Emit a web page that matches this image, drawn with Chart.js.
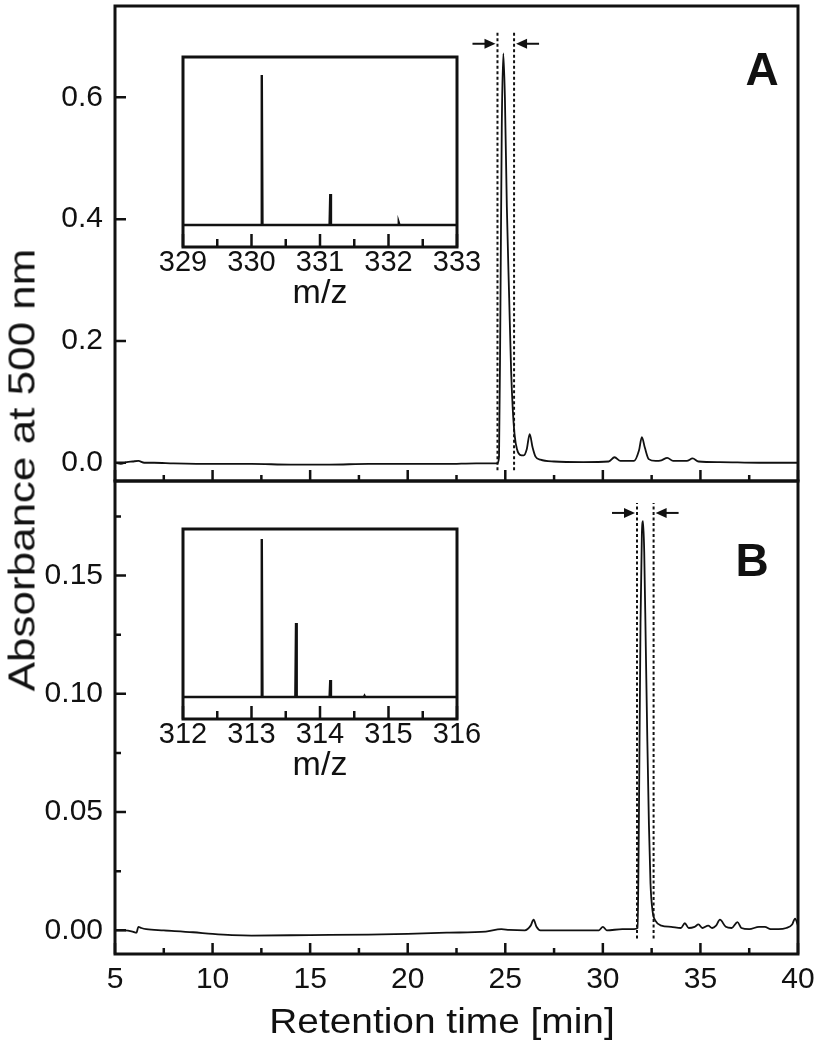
<!DOCTYPE html>
<html><head><meta charset="utf-8">
<script src="https://cdn.jsdelivr.net/npm/chart.js@4.4.0/dist/chart.umd.min.js"></script>
<style>
html,body{margin:0;padding:0;background:#fff}
body{width:819px;height:1050px;overflow:hidden;position:relative;font-family:"Liberation Sans",Arial,sans-serif;color:#111}
canvas{position:absolute}
.t{position:absolute;white-space:nowrap;line-height:1;color:#111}
</style></head><body>
<canvas id="cA" width="819" height="500" style="left:0;top:0"></canvas>
<canvas id="cB" width="819" height="580" style="left:0;top:470px"></canvas>
<canvas id="iA" width="360" height="240" style="left:140px;top:40px"></canvas>
<canvas id="iB" width="360" height="240" style="left:140px;top:512px"></canvas>
<div class="t" style="left:22px;top:470px;font-size:44px;transform:translate(-50%,-50%) rotate(-90deg) scaleY(0.82)">Absorbance at 500 nm</div>
<div class="t" style="left:442px;top:1020px;font-size:35px;transform:translate(-50%,-50%) scaleX(1.11)">Retention time [min]</div>
<div class="t" style="left:320px;top:291px;font-size:34px;transform:translate(-50%,-50%)">m/z</div>
<div class="t" style="left:320px;top:763px;font-size:34px;transform:translate(-50%,-50%)">m/z</div>
<div class="t" style="left:762px;top:69px;font-size:46px;font-weight:bold;transform:translate(-50%,-50%)">A</div>
<div class="t" style="left:752px;top:560px;font-size:46px;font-weight:bold;transform:translate(-50%,-50%)">B</div>
<script>
// ---------- data ----------
const timeA = [5.0,5.3,5.6,5.9,6.2,6.5,7.0,8.0,10.0,12.0,14.0,16.0,18.0,20.0,22.0,23.5,24.6,24.68,24.75,24.82,24.9,24.98,25.08,25.2,25.3,25.38,25.48,25.6,25.75,25.95,26.1,26.25,26.4,26.55,26.8,27.5,29.0,30.3,30.6,30.9,31.6,31.85,32.0,32.15,32.35,32.7,33.0,33.3,33.6,34.3,34.6,34.9,36.0,38.0,40.0];
const absA  = [0.000,-0.002,0.001,0.002,0.003,0.000,0.000,-0.001,-0.002,-0.002,-0.003,-0.003,-0.002,-0.002,-0.002,-0.001,-0.001,0.010,0.25,0.55,0.672,0.60,0.42,0.27,0.15,0.09,0.045,0.022,0.013,0.012,0.022,0.047,0.025,0.010,0.005,0.002,0.001,0.002,0.009,0.003,0.003,0.020,0.042,0.025,0.006,0.003,0.004,0.008,0.003,0.003,0.007,0.002,0.001,0.000,0.000];
const timeB = [5.0,5.5,5.9,6.1,6.2,6.35,6.6,7.5,9.0,10.0,11.0,12.0,15.0,18.0,20.0,22.0,24.0,24.8,25.2,26.0,26.3,26.45,26.6,26.8,28.0,29.8,30.0,30.2,31.0,31.6,31.78,31.85,31.93,32.0,32.06,32.12,32.2,32.28,32.36,32.44,32.55,32.7,33.0,33.5,34.0,34.2,34.4,34.7,34.9,35.1,35.4,35.6,35.8,36.0,36.3,36.6,36.9,37.1,37.5,38.0,38.3,38.6,39.0,39.4,39.7,39.85,40.0];
const absB  = [0.000,0.000,-0.0005,-0.001,0.0015,0.001,0.0005,0.000,-0.0008,-0.0015,-0.002,-0.0022,-0.002,-0.0018,-0.0015,-0.001,-0.0005,0.0005,0.0002,0.000,0.002,0.0045,0.0015,0.000,0.000,0.000,0.0015,0.000,0.0005,0.0005,0.001,0.05,0.13,0.168,0.173,0.16,0.12,0.08,0.045,0.02,0.008,0.004,0.002,0.0015,0.001,0.003,0.001,0.0015,0.0025,0.001,0.002,0.001,0.002,0.0045,0.0015,0.001,0.0035,0.001,0.0005,0.0015,0.0015,0.0005,0.0005,0.001,0.0025,0.005,0.002];
const windowA = [24.6, 25.45];      // retention window (dashed lines), panel A
const dashSpanA = [-0.0125, 0.706];
const arrowYA = 0.688;
const windowB = [31.75, 32.6];      // retention window, panel B
const dashSpanB = [-0.0034, 0.1807];
const arrowYB = 0.1765;
const xTicks = [5,10,15,20,25,30,35,40];
const xMinor = [7.5,12.5,17.5,22.5,27.5,32.5,37.5];
const yTicksA = [0.0,0.2,0.4,0.6];
const yTicksB = [0.00,0.05,0.10,0.15];
const yMinorB = [0.025,0.075,0.125,0.175];
// inset mass spectra (relative intensity)
const mzA  = [329.0,330.14,330.15,330.16,331.14,331.15,331.16,332.14,332.15,332.16,333.0];
const intA = [0,0,100,0,0,20.7,0,0,1.5,0,0];
const mzTicksA = [329,330,331,332,333];
const mzMinorA = [329.5,330.5,331.5,332.5];
const mzB  = [312.0,313.14,313.15,313.16,313.64,313.65,313.66,314.14,314.15,314.16,314.64,314.65,314.66,316.0];
const intB = [0,0,100,0,0,46.8,0,0,10.8,0,0,0.8,0,0];
const mzTicksB = [312,313,314,315,316];
const mzMinorB = [312.5,313.5,314.5,315.5];

// ---------- helpers ----------
const INK = '#111';
const FONT = '"Liberation Sans", Arial, sans-serif';
const pts = (xs, ys) => xs.map((x, i) => ({x, y: ys[i]}));
const vline = (x, span) => [{x, y: span[0]}, {x, y: span[1]}];
const noPad = s => { s.paddingTop = 0; s.paddingBottom = 0; s.paddingLeft = 0; s.paddingRight = 0; };

const framePlugin = {
  id: 'frame',
  afterDatasetsDraw(chart, args, o) {
    const {ctx, chartArea: a, scales} = chart;
    const xs = scales.x, ys = scales.y;
    ctx.save();
    ctx.strokeStyle = INK;
    ctx.lineWidth = o.tickWidth || 2.5;
    ctx.beginPath();
    (o.xMajor || []).forEach(v => { const p = xs.getPixelForValue(v); ctx.moveTo(p, a.bottom); ctx.lineTo(p, a.bottom - o.majLen); });
    (o.xMinor || []).forEach(v => { const p = xs.getPixelForValue(v); ctx.moveTo(p, a.bottom); ctx.lineTo(p, a.bottom - o.minLen); });
    (o.yMajor || []).forEach(v => { const p = ys.getPixelForValue(v); ctx.moveTo(a.left, p); ctx.lineTo(a.left + o.majLen, p); });
    (o.yMinor || []).forEach(v => { const p = ys.getPixelForValue(v); ctx.moveTo(a.left, p); ctx.lineTo(a.left + o.minLen, p); });
    ctx.stroke();
    ctx.lineWidth = o.frameWidth || 3;
    ctx.strokeRect(a.left, a.top, a.right - a.left, a.bottom - a.top);
    if (o.arrows) {
      const y = ys.getPixelForValue(o.arrows.y);
      const l = xs.getPixelForValue(o.arrows.win[0]) - 2;
      const r = xs.getPixelForValue(o.arrows.win[1]) + 2;
      ctx.fillStyle = INK; ctx.lineWidth = 2;
      ctx.beginPath(); ctx.moveTo(l - 23, y); ctx.lineTo(l - 8, y); ctx.stroke();
      ctx.beginPath(); ctx.moveTo(l, y); ctx.lineTo(l - 11, y - 5); ctx.lineTo(l - 11, y + 5); ctx.closePath(); ctx.fill();
      ctx.beginPath(); ctx.moveTo(r + 23, y); ctx.lineTo(r + 8, y); ctx.stroke();
      ctx.beginPath(); ctx.moveTo(r, y); ctx.lineTo(r + 11, y - 5); ctx.lineTo(r + 11, y + 5); ctx.closePath(); ctx.fill();
    }
    ctx.restore();
  }
};

function traceDS(data) {
  return {data, borderColor: INK, borderWidth: 1.8, pointRadius: 0, cubicInterpolationMode: 'monotone', fill: false};
}
function dashDS(data) {
  return {data, borderColor: INK, borderWidth: 2, borderDash: [3, 2.5], pointRadius: 0, tension: 0, fill: false};
}
function yScale(min, max, ticks, dec) {
  return {
    type: 'linear', min, max,
    afterBuildTicks: s => { s.ticks = ticks.map(v => ({value: v})); },
    afterFit: s => { s.width = 115; noPad(s); },
    grid: {display: false, drawTicks: false}, border: {display: false},
    ticks: {color: INK, padding: 12, font: {family: FONT, size: 30, lineHeight: 1}, callback: v => Number(v).toFixed(dec)}
  };
}
const baseOpts = {responsive: false, animation: false, events: [],
  plugins: {legend: {display: false}, tooltip: {enabled: false}}};

// ---------- panel A ----------
new Chart(document.getElementById('cA'), {
  type: 'line',
  data: {datasets: [traceDS(pts(timeA, absA)), dashDS(vline(windowA[0], dashSpanA)), dashDS(vline(windowA[1], dashSpanA))]},
  options: {...baseOpts,
    layout: {autoPadding: false, padding: {left: 0, top: 6, right: 21, bottom: 19}},
    scales: {
      x: {type: 'linear', min: 5, max: 40, display: false},
      y: yScale(-0.03, 0.75, yTicksA, 1)
    },
    plugins: {...baseOpts.plugins, frame: {xMajor: xTicks, xMinor: xMinor, yMajor: yTicksA, yMinor: [], majLen: 11, minLen: 6, arrows: {y: arrowYA, win: windowA}}}
  },
  plugins: [framePlugin]
});

// ---------- panel B ----------
new Chart(document.getElementById('cB'), {
  type: 'line',
  data: {datasets: [traceDS(pts(timeB, absB)), dashDS(vline(windowB[0], dashSpanB)), dashDS(vline(windowB[1], dashSpanB))]},
  options: {...baseOpts,
    layout: {autoPadding: false, padding: {left: 0, top: 11, right: 21, bottom: 0}},
    scales: {
      x: {type: 'linear', min: 5, max: 40,
        afterBuildTicks: s => { s.ticks = xTicks.map(v => ({value: v})); },
        afterFit: s => { s.height = 96; noPad(s); },
        grid: {display: false, drawTicks: false}, border: {display: false},
        ticks: {color: INK, padding: 11, maxRotation: 0, autoSkip: false, font: {family: FONT, size: 30, lineHeight: 1}}},
      y: yScale(-0.01, 0.19, yTicksB, 2)
    },
    plugins: {...baseOpts.plugins, frame: {xMajor: xTicks, xMinor: xMinor, yMajor: yTicksB, yMinor: yMinorB, majLen: 11, minLen: 6, arrows: {y: arrowYB, win: windowB}}}
  },
  plugins: [framePlugin]
});

// ---------- insets ----------
function inset(id, xs, ys, ticks, minor, min, max, ymin, ymax) {
  new Chart(document.getElementById(id), {
    type: 'line',
    data: {datasets: [{data: pts(xs, ys), borderColor: INK, borderWidth: 2.4, pointRadius: 0, tension: 0, fill: false}]},
    options: {...baseOpts,
      layout: {autoPadding: false, padding: {left: 43, top: 17, right: 43, bottom: 0}},
      scales: {
        x: {type: 'linear', min, max,
          afterBuildTicks: s => { s.ticks = ticks.map(v => ({value: v})); },
          afterFit: s => { s.height = 33; noPad(s); },
          grid: {display: false, drawTicks: false}, border: {display: false},
          ticks: {color: INK, padding: 1, maxRotation: 0, autoSkip: false, font: {family: FONT, size: 29, lineHeight: 1}}},
        y: {type: 'linear', min: ymin, max: ymax, display: false}
      },
      plugins: {...baseOpts.plugins, frame: {xMajor: ticks, xMinor: minor, majLen: 13, minLen: 8}}
    },
    plugins: [framePlugin]
  });
}
inset('iA', mzA, intA, mzTicksA, mzMinorA, 329, 333, -14.7, 112);
inset('iB', mzB, intB, mzTicksB, mzMinorB, 312, 316, -13.9, 106.3);
</script>
</body></html>
